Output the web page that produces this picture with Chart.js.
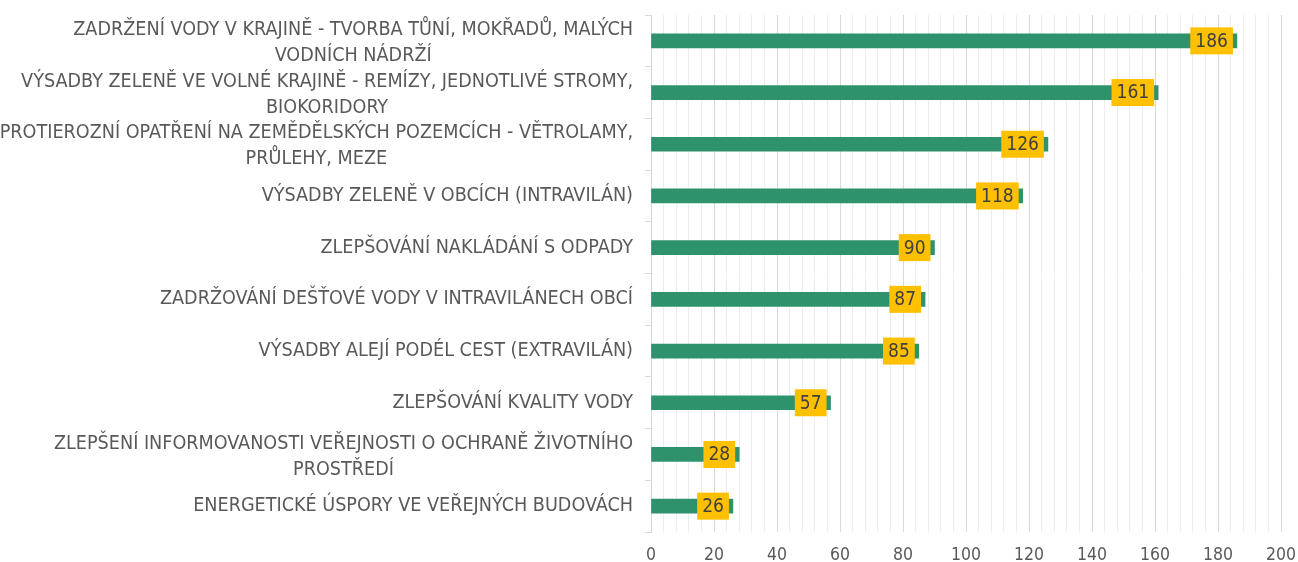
<!DOCTYPE html>
<html>
<head>
<meta charset="utf-8">
<script src="https://cdn.jsdelivr.net/npm/chart.js@4.4.1/dist/chart.umd.min.js"></script>
<style>
  html, body { margin: 0; padding: 0; background: #fff; }
  #wrap { width: 1298px; height: 562px; position: relative; }
</style>
</head>
<body>
<div id="wrap"><canvas id="chart"></canvas></div>
<script>
/* Data */
const categories = [
  ["ZADRŽENÍ VODY V KRAJINĚ - TVORBA TŮNÍ, MOKŘADŮ, MALÝCH", "VODNÍCH NÁDRŽÍ"],
  ["VÝSADBY ZELENĚ VE VOLNÉ KRAJINĚ - REMÍZY, JEDNOTLIVÉ STROMY,", "BIOKORIDORY"],
  ["PROTIEROZNÍ OPATŘENÍ NA ZEMĚDĚLSKÝCH POZEMCÍCH - VĚTROLAMY,", "PRŮLEHY, MEZE"],
  ["VÝSADBY ZELENĚ V OBCÍCH (INTRAVILÁN)"],
  ["ZLEPŠOVÁNÍ NAKLÁDÁNÍ S ODPADY"],
  ["ZADRŽOVÁNÍ DEŠŤOVÉ VODY V INTRAVILÁNECH OBCÍ"],
  ["VÝSADBY ALEJÍ PODÉL CEST (EXTRAVILÁN)"],
  ["ZLEPŠOVÁNÍ KVALITY VODY"],
  ["ZLEPŠENÍ INFORMOVANOSTI VEŘEJNOSTI O OCHRANĚ ŽIVOTNÍHO", "PROSTŘEDÍ"],
  ["ENERGETICKÉ ÚSPORY VE VEŘEJNÝCH BUDOVÁCH"],
];
const counts = [186, 161, 126, 118, 90, 87, 85, 57, 28, 26];
const axisMin = 0;
const axisMax = 200;
const majorStep = 20;
const minorStep = 4;

const FONT = '"DejaVu Sans Condensed", "Liberation Sans Narrow", "Open Sans", sans-serif';
const TEXT_GREY = "#595959";

/* ---------------------------------------------------------
   Category labels: right-aligned block, lines centred inside
--------------------------------------------------------- */
const categoryLabels = {
  id: "categoryLabels",
  afterDraw(chart) {
    const { ctx } = chart;
    const yScale = chart.scales.y;
    const right = yScale.right - 18;
    const lineHeight = 26;
    ctx.save();
    ctx.font = "19.6px " + FONT;
    ctx.fillStyle = TEXT_GREY;
    ctx.textAlign = "center";
    ctx.textBaseline = "middle";
    categories.forEach((lines, i) => {
      const y = yScale.getPixelForTick(i);
      const widest = Math.max(...lines.map((l) => ctx.measureText(l).width));
      const cx = right - widest / 2;
      const top = y - ((lines.length - 1) * lineHeight) / 2 + (lines.length > 1 ? 2 : 0);
      lines.forEach((line, k) => ctx.fillText(line, cx, top + k * lineHeight));
    });
    ctx.restore();
  },
};

/* ---------------------------------------------------------
   Yellow value boxes at the inside end of each bar
--------------------------------------------------------- */
const valueBoxes = {
  id: "valueBoxes",
  afterDatasetsDraw(chart) {
    const { ctx } = chart;
    const meta = chart.getDatasetMeta(0);
    ctx.save();
    ctx.font = "19px " + FONT;
    ctx.textAlign = "center";
    ctx.textBaseline = "middle";
    meta.data.forEach((bar, i) => {
      const text = String(counts[i]);
      const w = ctx.measureText(text).width + 10;
      const h = 27;
      const x1 = bar.x - 4;
      ctx.fillStyle = "#FFC000";
      ctx.fillRect(x1 - w, bar.y - h / 2, w, h);
      ctx.fillStyle = "#404040";
      ctx.fillText(text, x1 - w / 2, bar.y + 1);
    });
    ctx.restore();
  },
};

new Chart(document.getElementById("chart").getContext("2d"), {
  type: "bar",
  data: {
    labels: categories.map((c) => c.join(" ")),
    datasets: [
      {
        data: counts,
        backgroundColor: "#2E936C",
        borderWidth: 0,
        barThickness: 14,
      },
    ],
  },
  options: {
    indexAxis: "y",
    responsive: true,
    maintainAspectRatio: false,
    animation: false,
    layout: { padding: { top: 15, right: 17, left: 0, bottom: 0 } },
    plugins: {
      legend: { display: false },
      tooltip: { enabled: false },
    },
    scales: {
      x: {
        min: axisMin,
        max: axisMax,
        afterFit: (scale) => {
          scale.height = 30;
          scale.paddingLeft = 0;
          scale.paddingRight = 0;
        },
        border: { display: false },
        grid: {
          drawTicks: false,
          color: (ctx) => (ctx.tick && ctx.tick.value % majorStep === 0 ? "#D9D9D9" : "#EDEDED"),
          lineWidth: 1,
        },
        ticks: {
          stepSize: minorStep,
          autoSkip: false,
          maxRotation: 0,
          padding: 13,
          color: TEXT_GREY,
          font: { family: FONT, size: 17.5 },
          callback: (v) => (v % majorStep === 0 ? v : ""),
        },
      },
      y: {
        afterFit: (scale) => { scale.width = 651; },
        border: { display: true, color: "#D9D9D9" },
        grid: {
          offset: true,
          drawOnChartArea: false,
          drawTicks: true,
          tickLength: 6,
          color: "#D9D9D9",
        },
        ticks: { display: false },
      },
    },
  },
  plugins: [categoryLabels, valueBoxes],
});
</script>
</body>
</html>
